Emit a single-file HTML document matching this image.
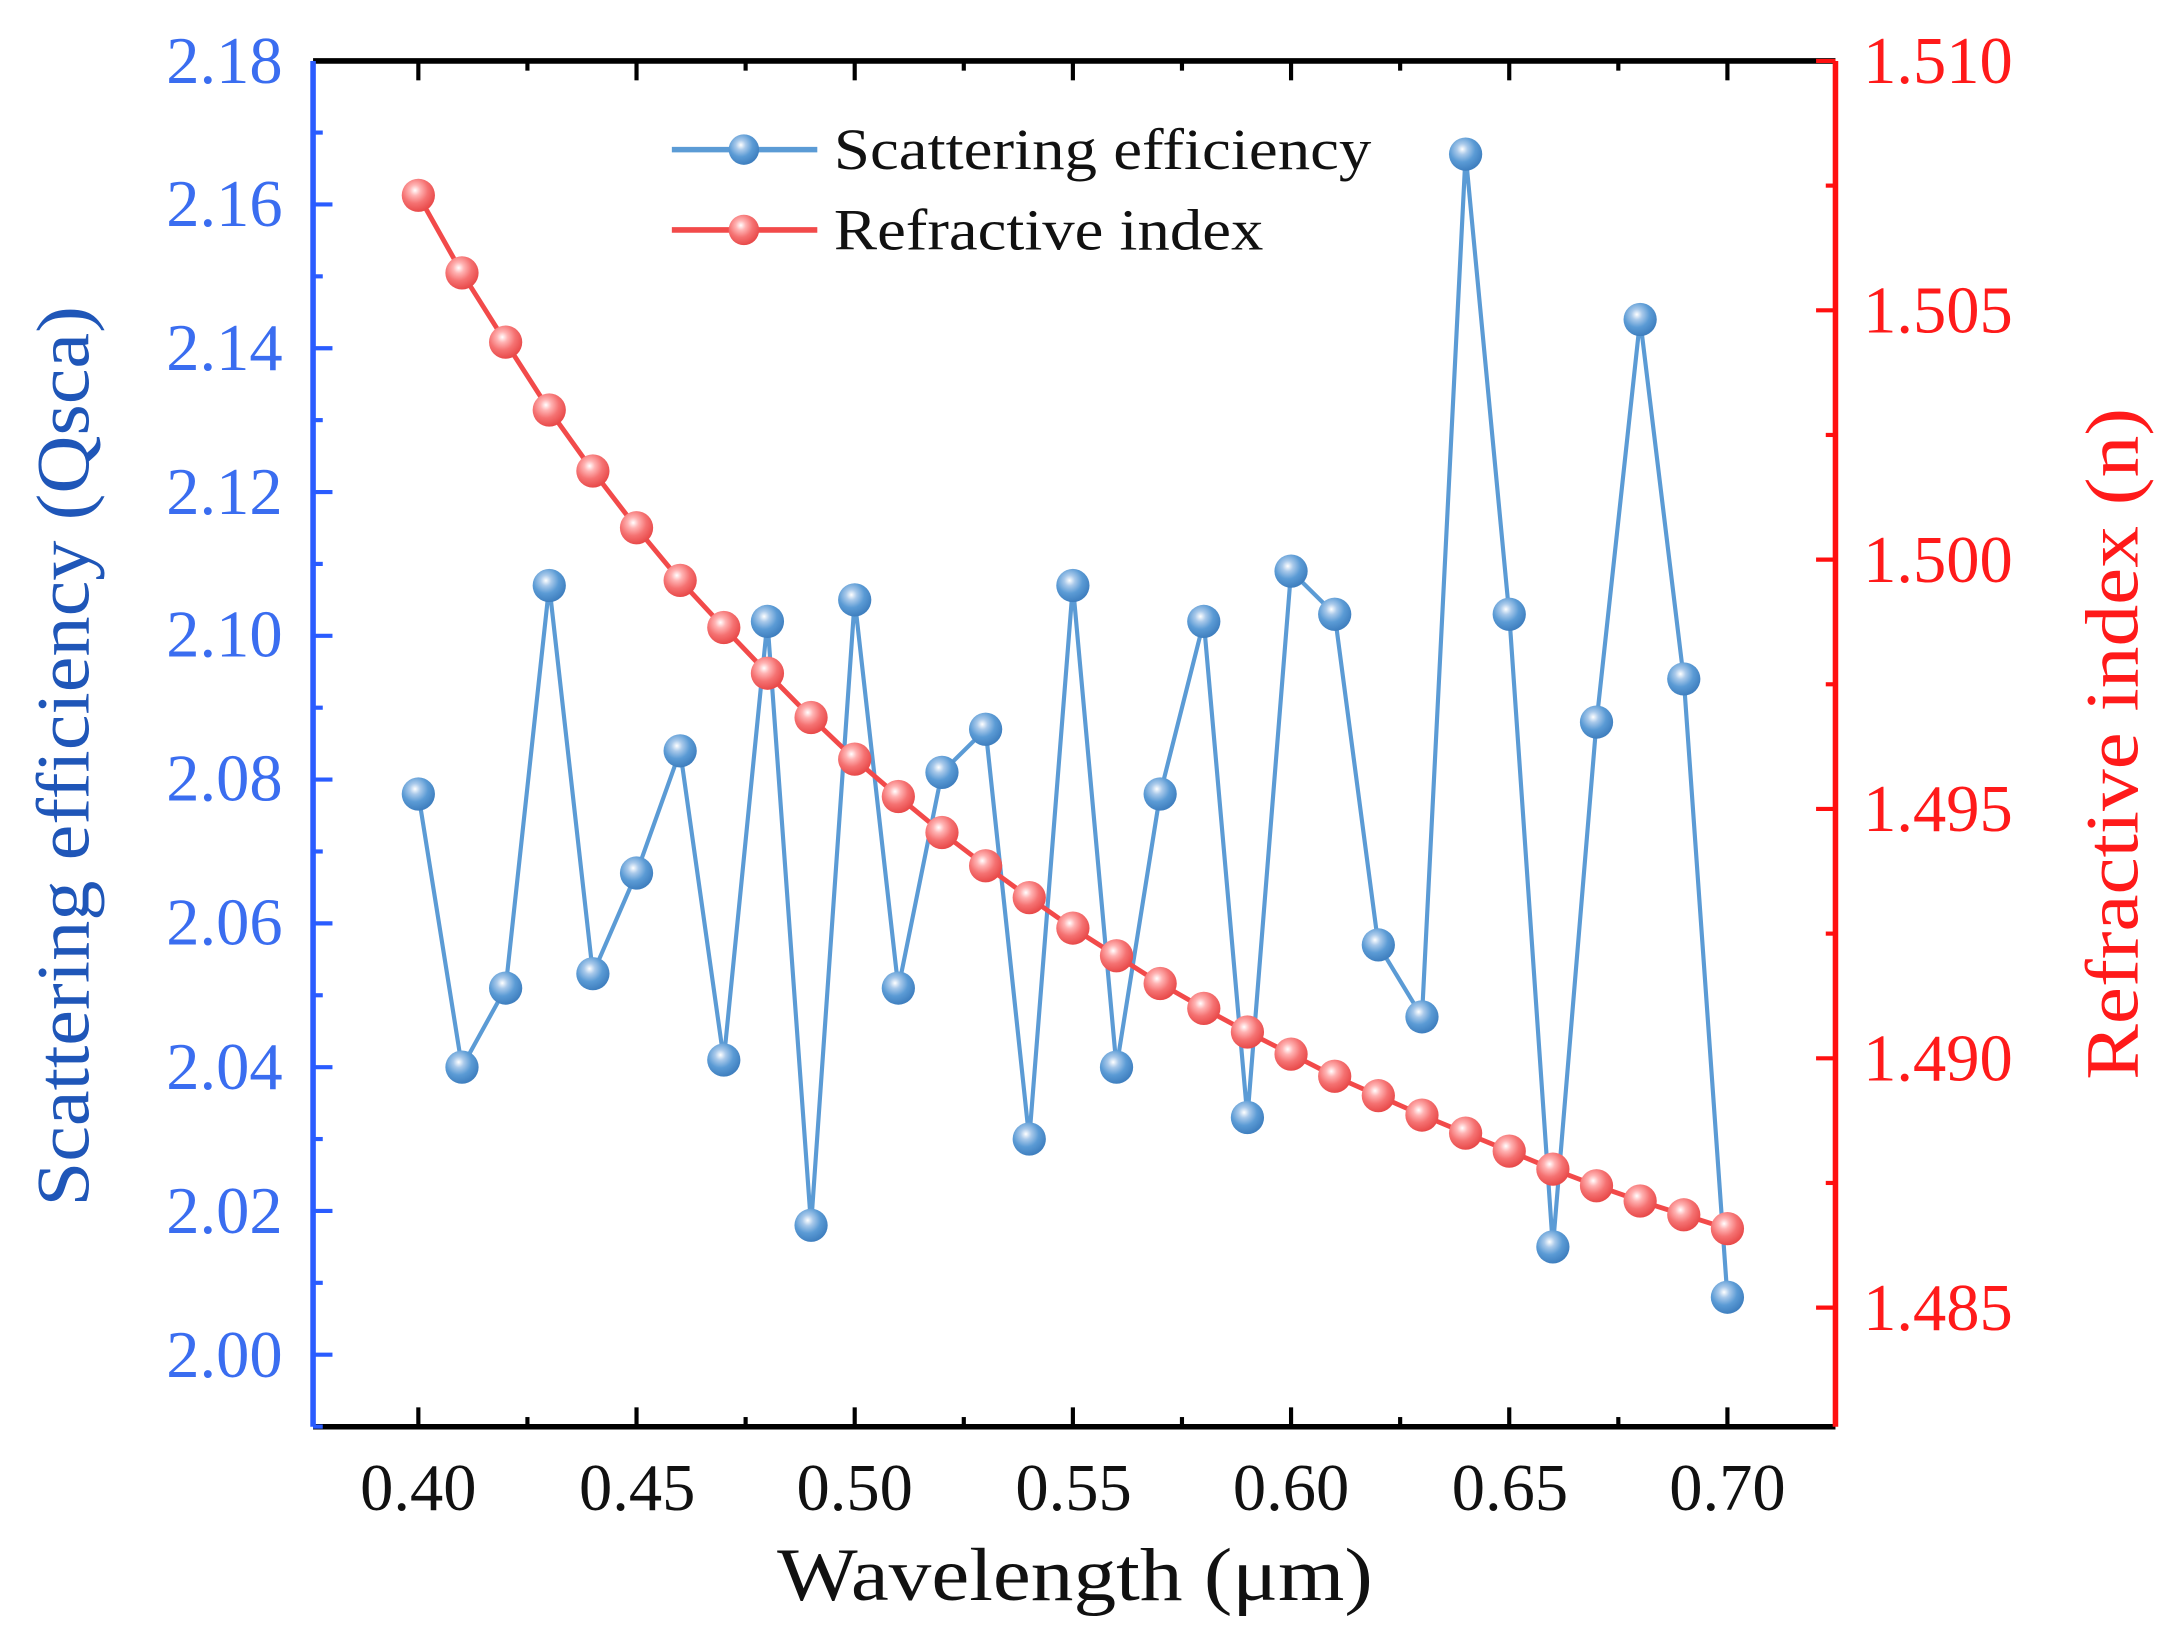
<!DOCTYPE html>
<html><head><meta charset="utf-8"><style>
html,body{margin:0;padding:0;background:#fff;width:2161px;height:1642px;overflow:hidden}
svg{display:block}
text{font-family:"Liberation Serif",serif}
</style></head><body>
<svg id="s" width="2161" height="1642" viewBox="0 0 1560 1185.4" preserveAspectRatio="none" xmlns="http://www.w3.org/2000/svg">
<defs>
<radialGradient id="gb" cx="0.4" cy="0.35" r="0.65"><stop offset="0" stop-color="#ffffff"/><stop offset="0.25" stop-color="#a9c9ea"/><stop offset="0.6" stop-color="#5b9bd5"/><stop offset="1" stop-color="#3f7fbf"/></radialGradient>
<radialGradient id="gr" cx="0.4" cy="0.35" r="0.65"><stop offset="0" stop-color="#ffffff"/><stop offset="0.25" stop-color="#ffb3b3"/><stop offset="0.6" stop-color="#f57272"/><stop offset="1" stop-color="#e84a4a"/></radialGradient>
</defs>
<g id="axes"></g>
<g id="series"></g>
<g fill="#3a6df0" font-size="48" text-anchor="end">
<text x="204" y="994">2.00</text><text x="204" y="890">2.02</text><text x="204" y="786">2.04</text>
<text x="204" y="682">2.06</text><text x="204" y="578">2.08</text><text x="204" y="474">2.10</text>
<text x="204" y="371">2.12</text><text x="204" y="267">2.14</text><text x="204" y="163">2.16</text>
<text x="204" y="60">2.18</text>
</g>
<g fill="#ff1a1a" font-size="48" text-anchor="start">
<text x="1345" y="60">1.510</text><text x="1345" y="240">1.505</text><text x="1345" y="420">1.500</text>
<text x="1345" y="600">1.495</text><text x="1345" y="780">1.490</text><text x="1345" y="960">1.485</text>
</g>
<g fill="#111" font-size="48" text-anchor="middle">
<text x="302" y="1090">0.40</text><text x="460" y="1090">0.45</text><text x="617" y="1090">0.50</text>
<text x="775" y="1090">0.55</text><text x="932" y="1090">0.60</text><text x="1090" y="1090">0.65</text>
<text x="1247" y="1090">0.70</text>
</g>
<text x="776" y="1155" font-size="54" fill="#111" text-anchor="middle" textLength="430" lengthAdjust="spacingAndGlyphs">Wavelength (μm)</text>
<text transform="translate(64,546) rotate(-90)" font-size="54" fill="#1f56b8" text-anchor="middle" textLength="650" lengthAdjust="spacingAndGlyphs">Scattering efficiency (Qsca)</text>
<text transform="translate(1543,537) rotate(-90)" font-size="54" fill="#ff1a1a" text-anchor="middle" textLength="485" lengthAdjust="spacingAndGlyphs">Refractive index (n)</text>
<g id="legend">
<line x1="485" y1="108" x2="590" y2="108" stroke="#5b9bd5" stroke-width="4"/>
<circle cx="537" cy="108" r="11" fill="url(#gb)"/>
<line x1="485" y1="166" x2="590" y2="166" stroke="#f24a4a" stroke-width="4"/>
<circle cx="537" cy="166" r="11" fill="url(#gr)"/>
<text x="602" y="122" font-size="42" fill="#111" textLength="388" lengthAdjust="spacingAndGlyphs">Scattering efficiency</text>
<text x="602" y="180" font-size="42" fill="#111" textLength="310" lengthAdjust="spacingAndGlyphs">Refractive index</text>
</g>
</svg>
<script>
var NS="http://www.w3.org/2000/svg";
function el(p,t,a){var e=document.createElementNS(NS,t);for(var k in a)e.setAttribute(k,a[k]);p.appendChild(e);return e;}
var ax=document.getElementById("axes"),se=document.getElementById("series");
var L=226,R=1325,T=44,B=1030;
function X(w){return 302+(w-0.40)/0.01*31.5;}
function YL(v){return 978-(v-2)/0.02*103.8;}
function YR(n){return 44+(1.510-n)/0.005*180;}
el(ax,"line",{x1:L,y1:T,x2:R,y2:T,stroke:"#000","stroke-width":4});
el(ax,"line",{x1:L,y1:B,x2:R,y2:B,stroke:"#000","stroke-width":4});
el(ax,"line",{x1:L,y1:T,x2:L,y2:B,stroke:"#2a5cff","stroke-width":4});
el(ax,"line",{x1:R,y1:T,x2:R,y2:B,stroke:"#ff1010","stroke-width":4});
for(var i=0;i<=12;i++){var w=0.40+i*0.025,x=X(w),len=(i%2==0)?14:7;
 el(ax,"line",{x1:x,y1:B,x2:x,y2:B-len,stroke:"#000","stroke-width":3});
 el(ax,"line",{x1:x,y1:T,x2:x,y2:T+len,stroke:"#000","stroke-width":3});}
for(var i=0;i<=18;i++){var v=2.00+i*0.01,y=YL(v);if(y<T)continue;var len=(i%2==0)?14:7;
 el(ax,"line",{x1:L,y1:y,x2:L+len,y2:y,stroke:"#2a5cff","stroke-width":3});}
var ym=YL(1.99);if(ym<B)el(ax,"line",{x1:L,y1:ym,x2:L+7,y2:ym,stroke:"#2a5cff","stroke-width":3});
for(var i=0;i<=11;i++){var n=1.510-i*0.0025,y=YR(n);if(y>B)continue;var len=(i%2==0)?14:7;
 el(ax,"line",{x1:R,y1:y,x2:R-len,y2:y,stroke:"#ff1010","stroke-width":3});}
var q=[2.078,2.040,2.051,2.107,2.053,2.067,2.084,2.041,2.102,2.018,2.105,2.051,2.081,2.087,2.030,2.107,2.040,2.078,2.102,2.033,2.109,2.103,2.057,2.047,2.167,2.103,2.015,2.088,2.144,2.094,2.008];
var ry=[141,197,247,296,340,381,419,453,486,518,548,575,601,625,648,670,690,710,728,745,761,777,791,805,818,831,844,856,867,877,887];
var pb=[],pr=[];
for(var i=0;i<31;i++){var x=X(0.40+i*0.01);pb.push(x+","+YL(q[i]));pr.push(x+","+ry[i]);}
el(se,"polyline",{points:pb.join(" "),fill:"none",stroke:"#5b9bd5","stroke-width":3});
el(se,"polyline",{points:pr.join(" "),fill:"none",stroke:"#f24a4a","stroke-width":3.5});
for(var i=0;i<31;i++){var x=X(0.40+i*0.01);
 el(se,"circle",{cx:x,cy:ry[i],r:12,fill:"url(#gr)"});}
for(var i=0;i<31;i++){var x=X(0.40+i*0.01);
 el(se,"circle",{cx:x,cy:YL(q[i]),r:12,fill:"url(#gb)"});}
</script>
</body></html>
